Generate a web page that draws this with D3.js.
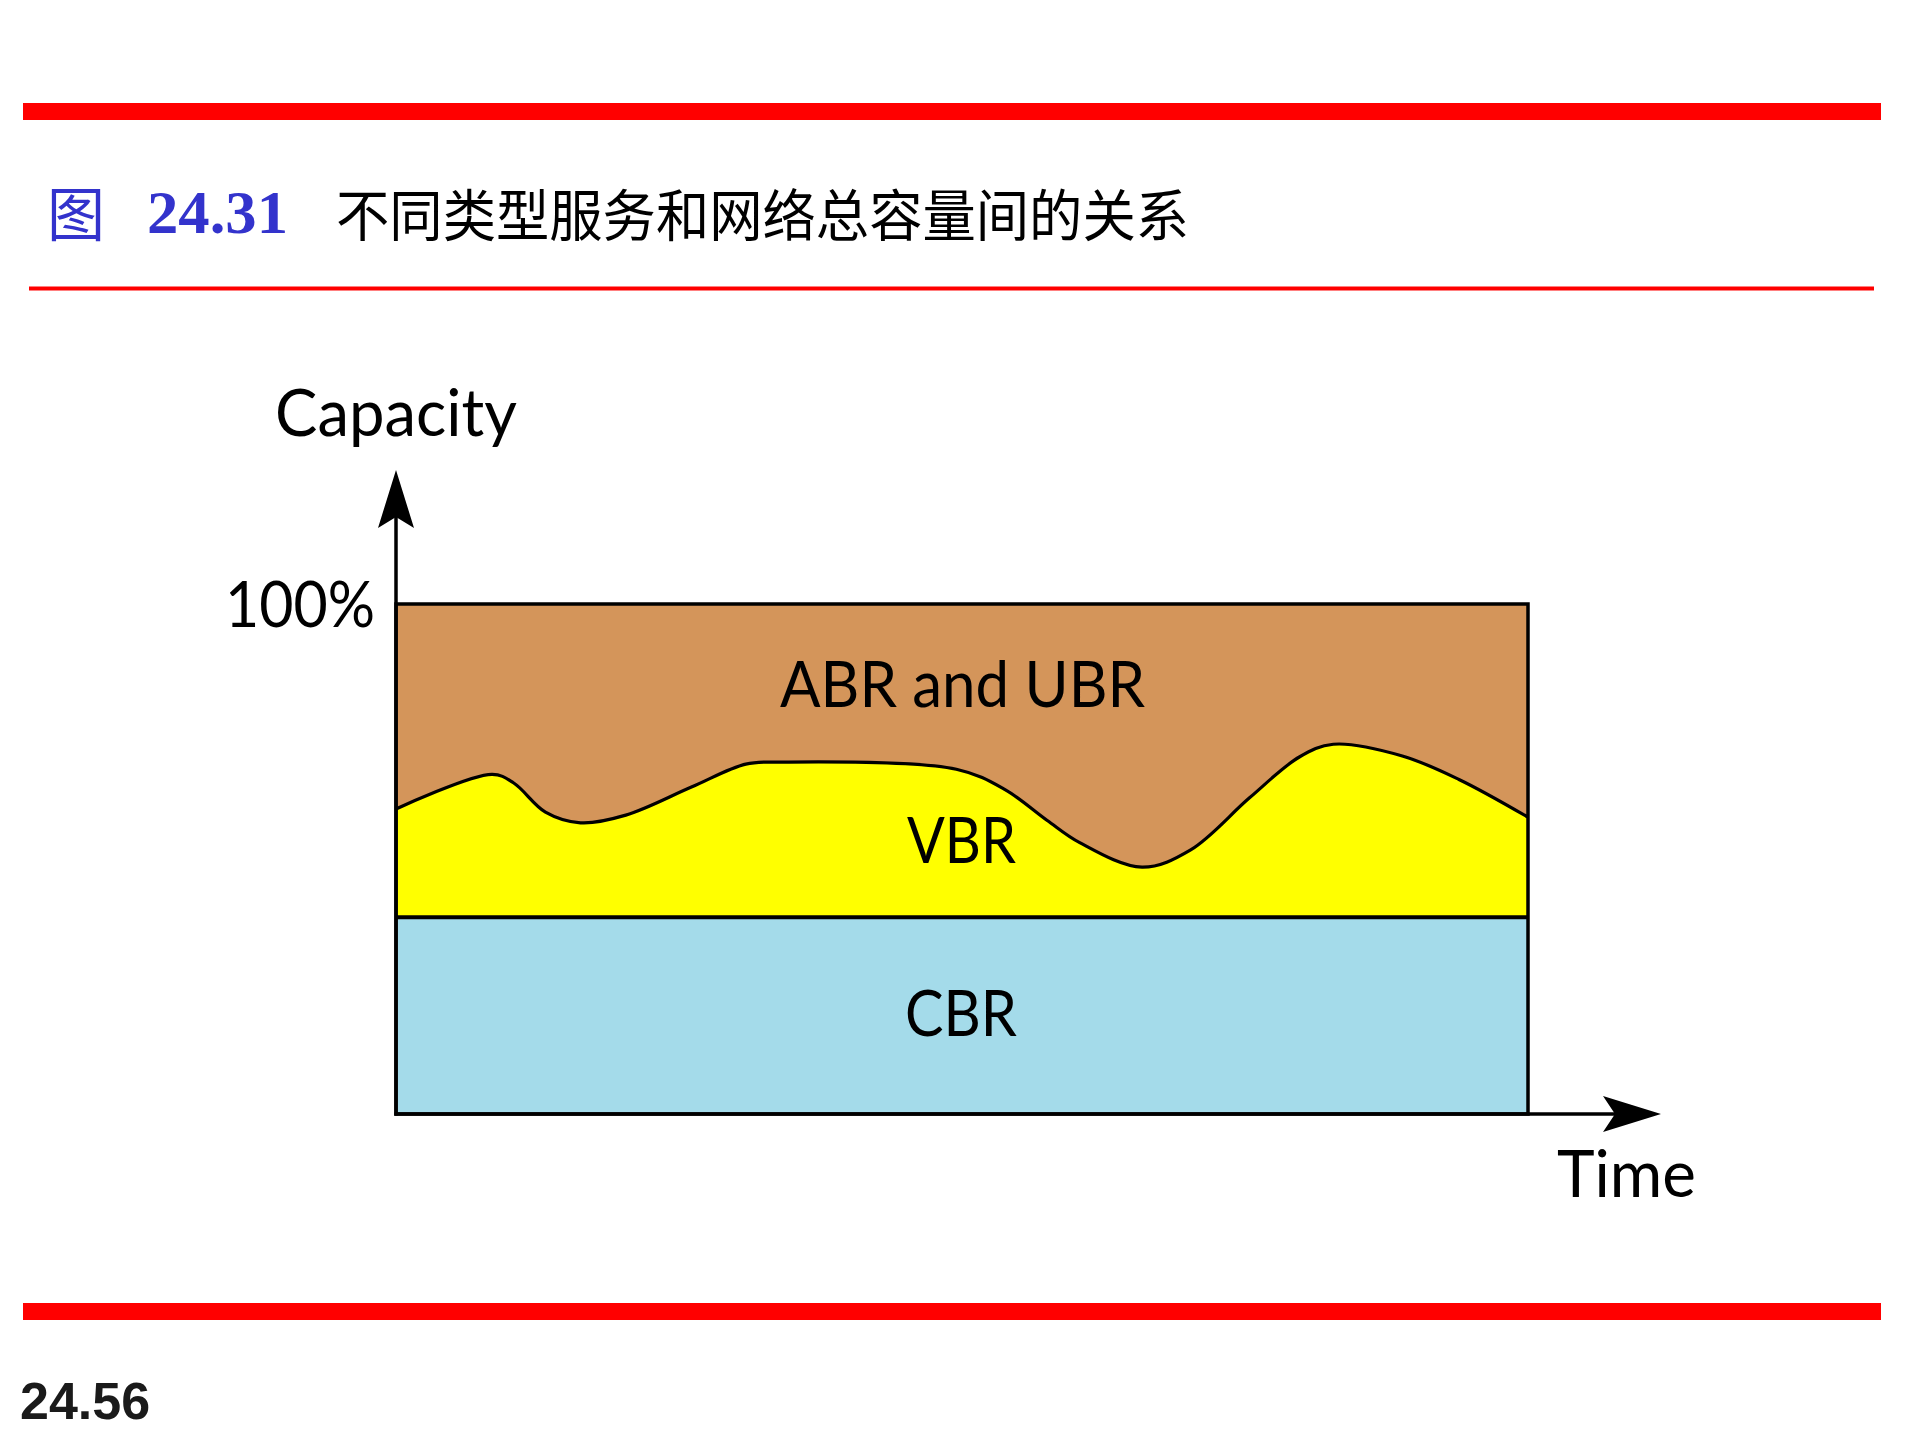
<!DOCTYPE html>
<html>
<head>
<meta charset="utf-8">
<script src="https://cdn.jsdelivr.net/npm/d3@7"></script>
<style>
  html, body { margin: 0; padding: 0; background: #ffffff; }
  svg { display: block; }
</style>
</head>
<body>
<script>
// ---------- data ----------
const figureLabel = "图";
const figureNumber = "24.31";
const figureTitle = "不同类型服务和网络总容量间的关系";
const pageNumber = "24.56";
const yAxisLabel = "Capacity";
const xAxisLabel = "Time";
const yTickValues = [100];
const yTickLabels = ["100%"];
const layerNames = ["CBR", "VBR", "ABR and UBR"];
const cbrLevel = 38.6;            // % of capacity, constant
// VBR upper boundary (time %, capacity %)
const vbrTime = [0, 8.5, 10.4, 13.2, 16.3, 20.3, 26.1, 30.9, 34.1, 49.5, 53.8, 57.5, 60.4, 65.9, 70.2, 75.4, 79.8, 82.8, 88.9, 93.9, 100];
const vbrTop  = [59.8, 66.6, 64.9, 59.2, 57.1, 58.6, 64.1, 68.6, 69.0, 67.6, 63.6, 57.6, 53.2, 48.4, 51.8, 62.0, 70.0, 72.5, 70.2, 65.6, 58.2];

// ---------- layout ----------
const W = 1920, H = 1440;
const svg = d3.select("body").append("svg").attr("width", W).attr("height", H);

const x = d3.scaleLinear().domain([0, 100]).range([396, 1528]);
const y = d3.scaleLinear().domain([0, 100]).range([1114, 604]);

const colors = { CBR: "#A4DBEA", VBR: "#FFFF00", "ABR and UBR": "#D4955A" };
const labelFont = "Lato, 'Open Sans', sans-serif";

// ---------- page decorations ----------
svg.append("rect").attr("x", 23).attr("y", 103).attr("width", 1858).attr("height", 17).attr("fill", "#FF0000");
svg.append("rect").attr("x", 29).attr("y", 286.5).attr("width", 1845).attr("height", 4).attr("fill", "#FF0000");
svg.append("rect").attr("x", 23).attr("y", 1303).attr("width", 1858).attr("height", 17).attr("fill", "#FF0000");

svg.append("text").attr("x", 47).attr("y", 236)
  .attr("font-family", "'Noto Sans CJK SC', sans-serif").attr("font-size", 58)
  .attr("fill", "#3333CC").text(figureLabel);
svg.append("text").attr("x", 147).attr("y", 233)
  .attr("font-family", "'Liberation Serif', serif").attr("font-weight", "bold").attr("font-size", 62)
  .attr("fill", "#3333CC").attr("textLength", 141).attr("lengthAdjust", "spacingAndGlyphs").text(figureNumber);
svg.append("text").attr("x", 336).attr("y", 236)
  .attr("font-family", "'Noto Sans CJK SC', sans-serif").attr("font-size", 56)
  .attr("fill", "#000").attr("textLength", 853).attr("lengthAdjust", "spacingAndGlyphs").text(figureTitle);

svg.append("text").attr("x", 20).attr("y", 1419)
  .attr("font-family", "'Liberation Sans', Arial, sans-serif").attr("font-weight", "bold").attr("font-size", 52)
  .attr("fill", "#1a1a1a").text(pageNumber);

// ---------- chart layers ----------
const vbrData = vbrTime.map((t, i) => ({ t, v: vbrTop[i] }));
const curve = d3.curveCatmullRom.alpha(0.5);

// CBR
svg.append("rect")
  .attr("x", x(0)).attr("y", y(cbrLevel))
  .attr("width", x(100) - x(0)).attr("height", y(0) - y(cbrLevel))
  .attr("fill", colors.CBR);

// ABR and UBR (fills up to 100%)
svg.append("rect")
  .attr("x", x(0)).attr("y", y(100))
  .attr("width", x(100) - x(0)).attr("height", y(cbrLevel) - y(100))
  .attr("fill", colors["ABR and UBR"]);

// VBR area
const area = d3.area().x(d => x(d.t)).y0(y(cbrLevel)).y1(d => y(d.v)).curve(curve);
svg.append("path").datum(vbrData).attr("d", area).attr("fill", colors.VBR);

// VBR boundary line
const line = d3.line().x(d => x(d.t)).y(d => y(d.v)).curve(curve);
svg.append("path").datum(vbrData).attr("d", line)
  .attr("fill", "none").attr("stroke", "#000").attr("stroke-width", 3.2);

// CBR top line
svg.append("line").attr("x1", x(0)).attr("x2", x(100)).attr("y1", y(cbrLevel)).attr("y2", y(cbrLevel))
  .attr("stroke", "#000").attr("stroke-width", 4);

// outer box
svg.append("rect")
  .attr("x", x(0)).attr("y", y(100))
  .attr("width", x(100) - x(0)).attr("height", y(0) - y(100))
  .attr("fill", "none").attr("stroke", "#000").attr("stroke-width", 3.5);

// ---------- axes with arrows ----------
const yTop = 470, xEnd = 1661;
svg.append("line").attr("x1", x(0)).attr("x2", x(0)).attr("y1", y(0) + 1.5).attr("y2", yTop + 20)
  .attr("stroke", "#000").attr("stroke-width", 3.5);
svg.append("path")
  .attr("d", `M${x(0)},${yTop} L${x(0) + 18},${yTop + 58} L${x(0)},${yTop + 47} L${x(0) - 18},${yTop + 58} Z`)
  .attr("fill", "#000");

svg.append("line").attr("x1", x(0) - 1.5).attr("x2", xEnd - 20).attr("y1", y(0)).attr("y2", y(0))
  .attr("stroke", "#000").attr("stroke-width", 3.5);
svg.append("path")
  .attr("d", `M${xEnd},${y(0)} L${xEnd - 58},${y(0) - 18} L${xEnd - 46},${y(0)} L${xEnd - 58},${y(0) + 18} Z`)
  .attr("fill", "#000");

// y tick label via d3 axis
const yAxis = d3.axisLeft(y).tickValues(yTickValues).tickFormat((d, i) => yTickLabels[i]).tickSize(0).tickPadding(21);
const gy = svg.append("g").attr("transform", `translate(${x(0)},0)`).call(yAxis);
gy.select(".domain").remove();
gy.selectAll("text")
  .attr("font-family", labelFont).attr("font-size", 63).attr("fill", "#000")
  .attr("dy", "0.36em")
  .attr("textLength", 150).attr("lengthAdjust", "spacingAndGlyphs");

// axis titles
svg.append("text").attr("x", 275).attr("y", 436)
  .attr("font-family", labelFont).attr("font-size", 66).attr("fill", "#000")
  .attr("textLength", 242).attr("lengthAdjust", "spacingAndGlyphs").text(yAxisLabel);
svg.append("text").attr("x", 1557).attr("y", 1197)
  .attr("font-family", labelFont).attr("font-size", 65).attr("fill", "#000")
  .attr("textLength", 139).attr("lengthAdjust", "spacingAndGlyphs").text(xAxisLabel);

// layer labels
const layerLabels = [
  { name: layerNames[0], x0: 905, w: 112, base: 1036 },
  { name: layerNames[1], x0: 907, w: 109, base: 863 },
  { name: layerNames[2], x0: 780, w: 365, base: 707 }
];
svg.selectAll("text.layer").data(layerLabels).join("text")
  .attr("class", "layer")
  .attr("x", d => d.x0).attr("y", d => d.base)
  .attr("font-family", labelFont).attr("font-size", 64).attr("fill", "#000")
  .attr("textLength", d => d.w).attr("lengthAdjust", "spacingAndGlyphs")
  .text(d => d.name);
</script>
</body>
</html>
